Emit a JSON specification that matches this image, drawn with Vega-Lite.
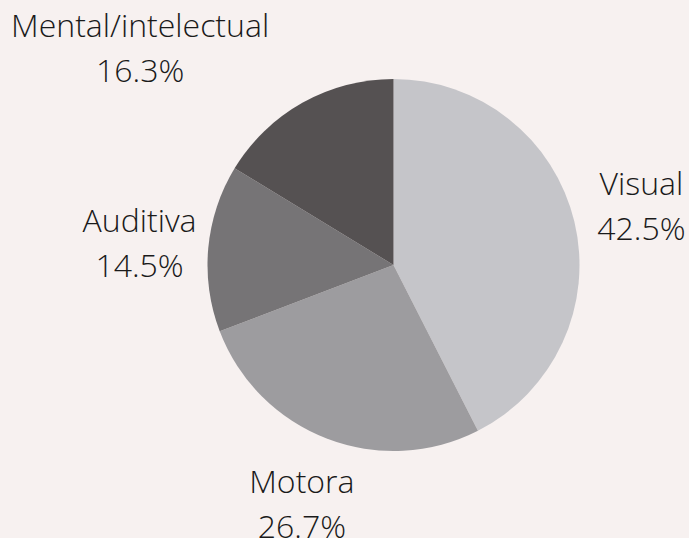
{
  "$schema": "https://vega.github.io/schema/vega-lite/v6.json",
  "width": 591,
  "height": 530,
  "autosize": "none",
  "padding": {"left": 98, "top": 0, "right": 0, "bottom": 8},
  "background": "#f7f1f0",
  "config": {"view": {"stroke": null}},
  "data": {
    "values": [
      {"category": "Visual", "value": 42.5, "order": 1},
      {"category": "Motora", "value": 26.7, "order": 2},
      {"category": "Auditiva", "value": 14.5, "order": 3},
      {"category": "Mental/intelectual", "value": 16.3, "order": 4}
    ]
  },
  "transform": [
    {"calculate": "datum.category + '\\n' + format(datum.value, '.1f') + '%'", "as": "label"}
  ],
  "encoding": {
    "theta": {"field": "value", "type": "quantitative", "stack": true},
    "order": {"field": "order", "type": "quantitative"}
  },
  "layer": [
    {
      "mark": {"type": "arc", "outerRadius": 186},
      "encoding": {
        "color": {
          "field": "category",
          "type": "nominal",
          "scale": {
            "domain": ["Visual", "Motora", "Auditiva", "Mental/intelectual"],
            "range": ["#c5c5c9", "#9d9c9f", "#767476", "#555152"]
          },
          "legend": null
        }
      }
    },
    {
      "transform": [{"calculate": "datum.category === 'Mental/intelectual' ? '' : datum.label", "as": "lab1"}],
      "mark": {"type": "text", "radius": 255, "dy": -20, "font": "Open Sans", "fontWeight": 300, "fontSize": 32, "lineHeight": 45, "lineBreak": "\n", "color": "#1a1a1a", "align": "center", "baseline": "middle"},
      "encoding": {"text": {"field": "lab1"}}
    },
    {
      "transform": [{"calculate": "datum.category === 'Mental/intelectual' ? datum.label : ''", "as": "lab2"}],
      "mark": {"type": "text", "radius": 260, "dx": -126, "dy": -11, "font": "Open Sans", "fontWeight": 300, "fontSize": 32, "lineHeight": 45, "lineBreak": "\n", "color": "#1a1a1a", "align": "center", "baseline": "middle"},
      "encoding": {"text": {"field": "lab2"}}
    }
  ]
}
